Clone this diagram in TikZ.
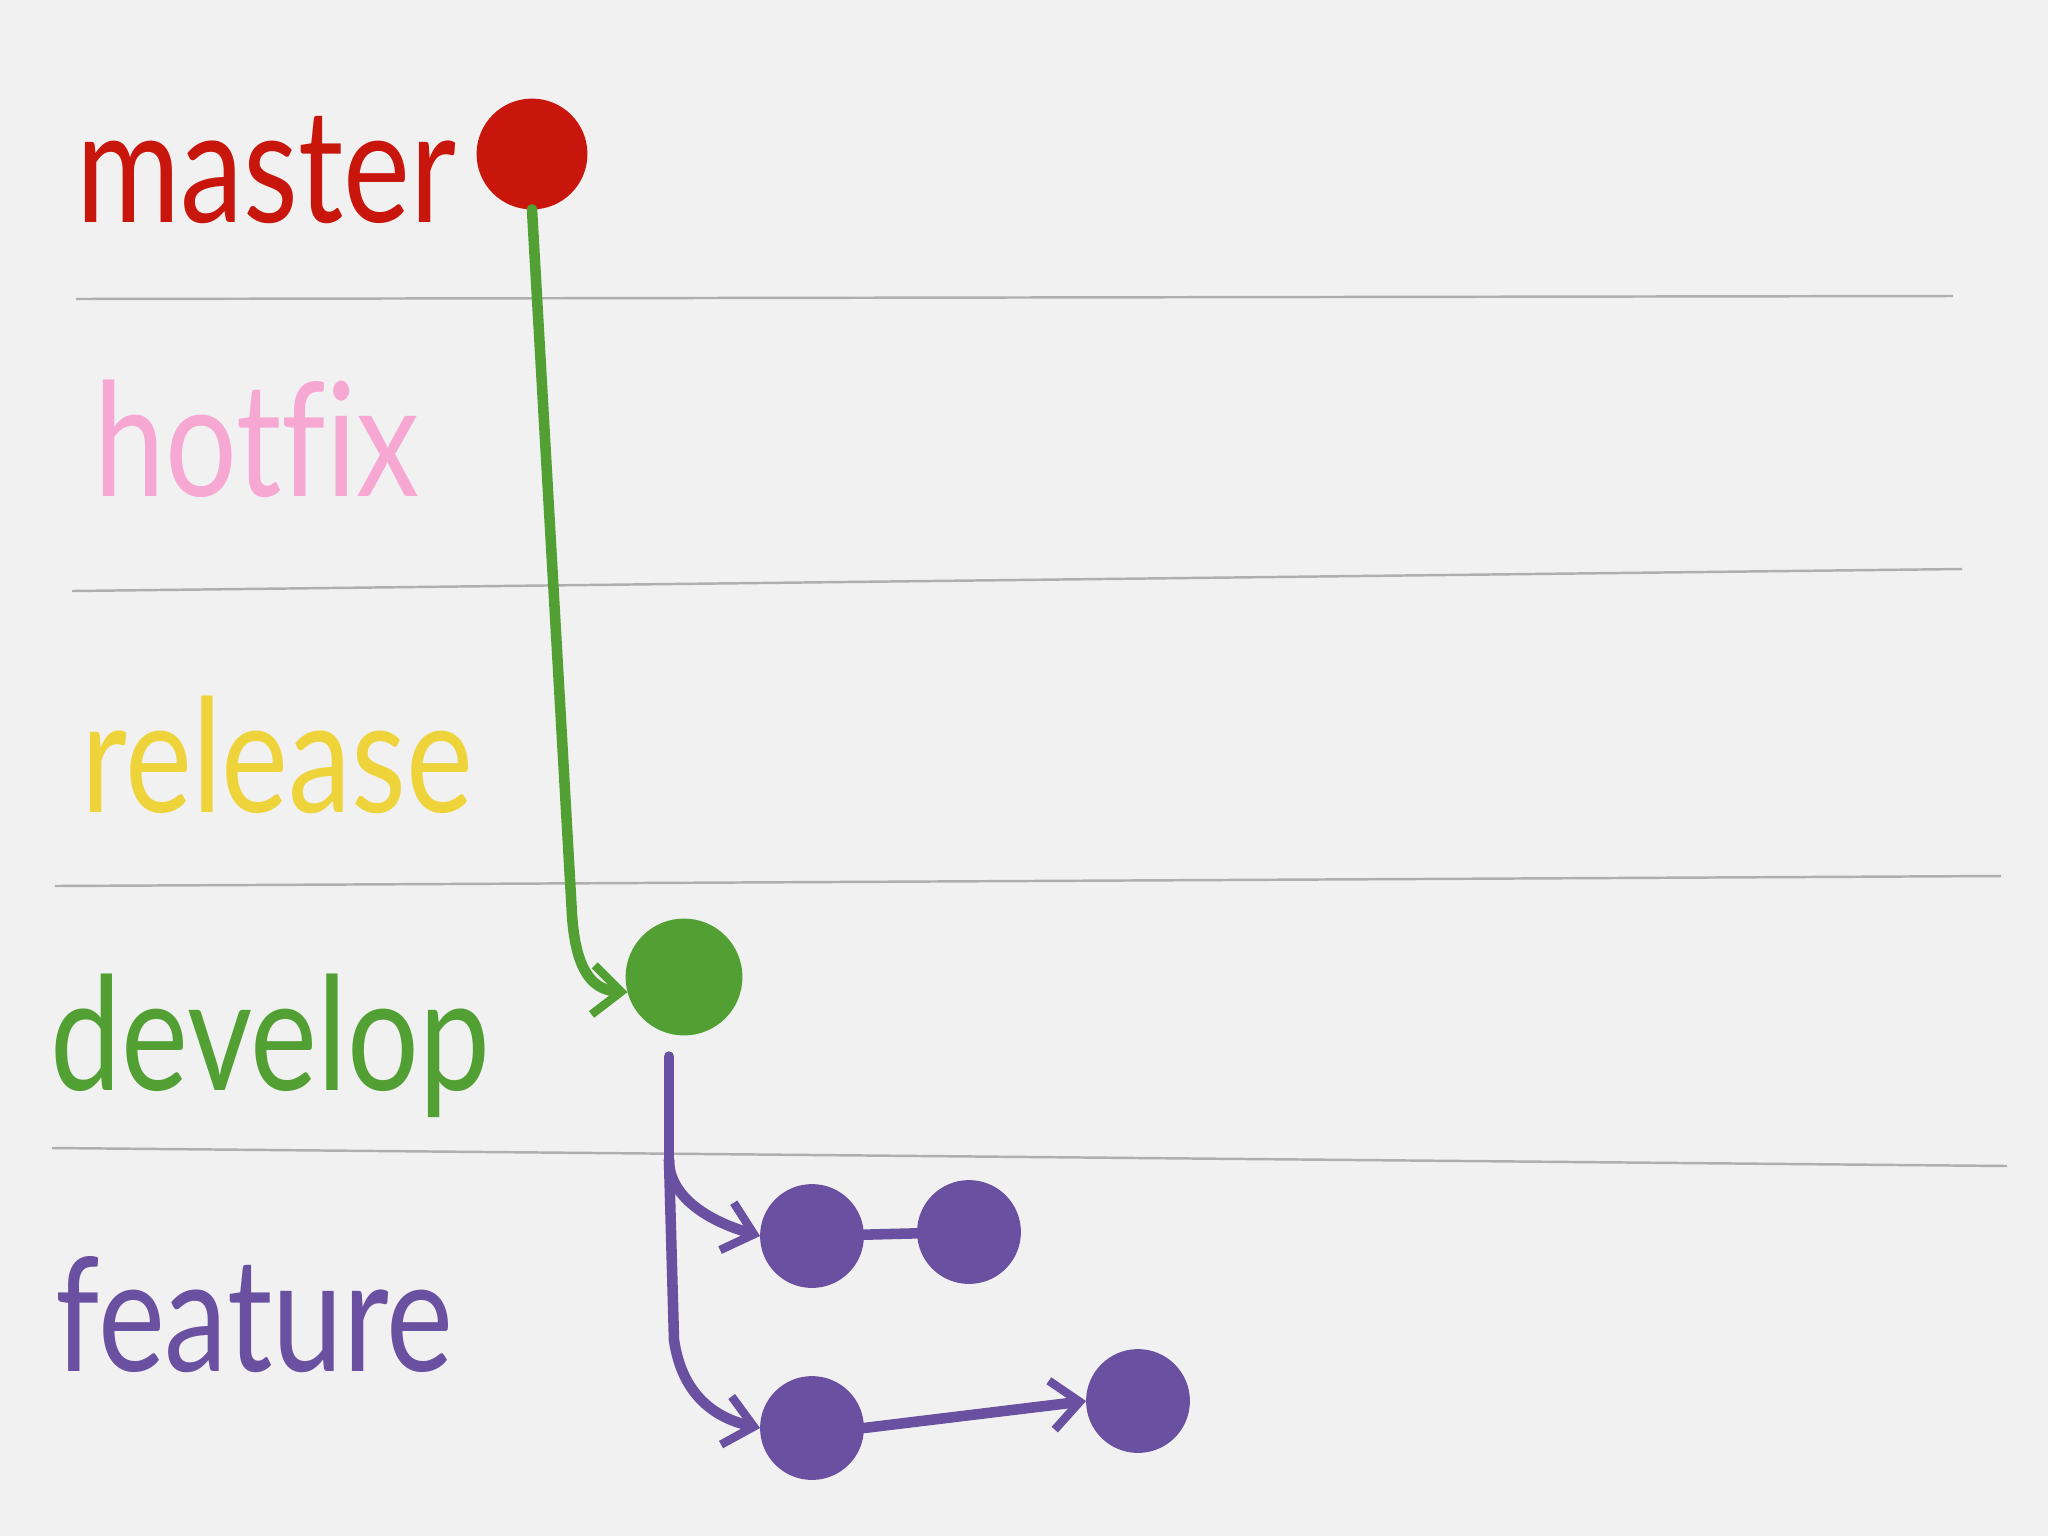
\documentclass[tikz,border=0pt]{standalone}
\usepackage{fontspec}
\setmainfont{Lato}[Ligatures=NoCommon]
\usetikzlibrary{arrows.meta}
\definecolor{paper}{RGB}{241,241,241}
\definecolor{rule}{RGB}{175,175,175}
\definecolor{cmaster}{RGB}{200,22,12}
\definecolor{chotfix}{RGB}{246,168,210}
\definecolor{crelease}{RGB}{238,212,58}
\definecolor{cdevelop}{RGB}{82,160,52}
\definecolor{cfeature}{RGB}{106,80,160}
\newcommand{\lbl}[1]{\scalebox{1}[1.25]{#1}}
\tikzset{
  commit/.style={circle, minimum size=1.08cm, inner sep=0pt, line width=2.5pt, draw=#1, fill=#1},
  lane/.style={draw=rule, line width=0.7pt},
  branch/.style={anchor=base west, inner sep=0pt, text=#1, font=\fontsize{36}{40}\selectfont},
  link/.style={draw=#1, line width=3pt, line cap=round},
  tip/.style={-{Straight Barb[length=8pt, width=14pt, line width=2.4pt]}}
}
\begin{document}
\begin{tikzpicture}[x=0.01cm, y=-0.01cm]
  \fill[paper] (0,0) rectangle (2048,1536);
  \useasboundingbox (0,0) rectangle (2048,1536);
  % lanes
  \draw[lane] (76,299) to (1953,296);
  \draw[lane] (72,591) to (1962,569);
  \draw[lane] (55,886) to (2001,876);
  \draw[lane] (52,1148) to (2007,1166);
  % branch names
  \draw
    (76,222) node[branch=cmaster] (lm){\lbl{master}}
    (94,496) node[branch=chotfix] (lh){\lbl{hotfix}}
    (81,812) node[branch=crelease] (lr){\lbl{release}}
    (50,1090) node[branch=cdevelop] (ld){\lbl{develop}}
    (55,1371) node[branch=cfeature] (lf){\lbl{feature}};
  % commits
  \draw
    (532,154) node[commit=cmaster, minimum size=1.02cm] (m){}
    (684,977) node[commit=cdevelop] (dv){}
    (812,1236) node[commit=cfeature, minimum size=0.95cm] (f1){}
    (969,1232) node[commit=cfeature, minimum size=0.95cm] (f2){}
    (812,1428) node[commit=cfeature, minimum size=0.95cm] (f3){}
    (1138,1401) node[commit=cfeature, minimum size=0.95cm] (f4){};
  \coordinate (split) at (669,1160);
  % connectors
  \draw[link=cdevelop, tip] (m.south) -- (572,915)
    .. controls (576,975) and (595,990) .. (dv.195);
  \draw[link=cfeature, shorten <=6pt] (dv.south -| split) -- (split);
  \draw[link=cfeature, tip] (split) .. controls (669,1195) and (705,1220) .. (f1.west);
  \draw[link=cfeature, tip] (split) -- (674,1340)
    .. controls (682,1395) and (715,1418) .. (f3.west);
  \draw[link=cfeature] (f1) to (f2);
  \draw[link=cfeature, tip] (f3.east) to (f4.west);
\end{tikzpicture}
\end{document}
